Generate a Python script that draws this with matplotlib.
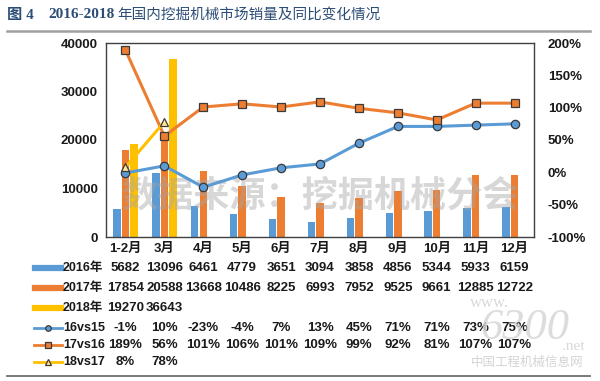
import matplotlib
matplotlib.use("Agg")
import matplotlib.pyplot as plt
from matplotlib.lines import Line2D
import matplotlib.transforms as mtransforms
import numpy as np

plt.rcParams['font.family'] = ['Liberation Sans', 'Noto Sans CJK SC']

# data
months = ["1-2月", "3月", "4月", "5月", "6月", "7月", "8月", "9月", "10月", "11月", "12月"]
sales_2016 = [5682, 13096, 6461, 4779, 3651, 3094, 3858, 4856, 5344, 5933, 6159]
sales_2017 = [17854, 20588, 13668, 10486, 8225, 6993, 7952, 9525, 9661, 12885, 12722]
sales_2018 = [19270, 36643]
yoy_16vs15 = [-1, 10, -23, -4, 7, 13, 45, 71, 71, 73, 75]
yoy_17vs16 = [189, 56, 101, 106, 101, 109, 99, 92, 81, 107, 107]
yoy_18vs17 = [8, 78]

C_BLUE = "#5b9bd5"
C_ORANGE = "#ed7d31"
C_YELLOW = "#ffc000"
EDGE = "#3a3a3a"

fig = plt.figure(figsize=(6.0, 3.81), dpi=100)
W, H = 600, 381

def fx(px):
    return px / W

def fy(py):
    return 1 - py / H

ax = fig.add_axes([fx(106), fy(237), fx(534) - fx(106), fy(43) - fy(237)])
x = np.arange(len(months))
bw = 0.19
step = 0.22

ax.bar(x - step, sales_2016, bw, color=C_BLUE, zorder=2)
ax.bar(x, sales_2017, bw, color=C_ORANGE, zorder=2)
ax.bar(x[:len(sales_2018)] + step, sales_2018, bw, color=C_YELLOW, zorder=2)

ax.set_xlim(-0.5, len(months) - 0.5)
ax.set_ylim(0, 40000)
ax.set_yticks([0, 10000, 20000, 30000, 40000])
ax.set_xticks(x)
ax.set_xticklabels(months)
ax.tick_params(axis='both', length=0, labelsize=9.5, colors="#1a1a1a")
ax.tick_params(axis='x', pad=4)
ax.tick_params(axis='y', pad=6)
for lab in ax.get_yticklabels() + ax.get_xticklabels():
    lab.set_fontweight('bold')
for s in ax.spines.values():
    s.set_color("#404040")
    s.set_linewidth(1.0)

# watermark inside the plot
ax.text(0.5, 0.21, "数据来源：挖掘机械分会", transform=ax.transAxes, ha='center', va='center',
        fontsize=26, fontweight='bold', color="#a8a8a8", alpha=0.45, zorder=5,
        family=['Noto Sans CJK SC'])

ax2 = ax.twinx()
ax2.set_ylim(-100, 200)
ax2.set_yticks([-100, -50, 0, 50, 100, 150, 200])
ax2.set_yticklabels(["-100%", "-50%", "0%", "50%", "100%", "150%", "200%"])
ax2.tick_params(axis='y', length=0, labelsize=9.5, pad=10, colors="#1a1a1a")
for lab in ax2.get_yticklabels():
    lab.set_fontweight('bold')
for s in ax2.spines.values():
    s.set_visible(False)

ax2.plot(x, yoy_16vs15, color=C_BLUE, lw=2.2, marker='o', ms=6,
         mfc=C_BLUE, mec=EDGE, mew=0.9, zorder=4)
ax2.plot(x, yoy_17vs16, color=C_ORANGE, lw=2.2, marker='s', ms=6,
         mfc=C_ORANGE, mec=EDGE, mew=0.9, zorder=4)
ax2.plot(x[:len(yoy_18vs17)], yoy_18vs17, color=C_YELLOW, lw=2.2, marker='^', ms=6,
         mfc="#ffe699", mec=EDGE, mew=0.9, zorder=4)

# data table below the chart
rows = [
    ("2016年", "bar", C_BLUE, None, 268, [str(v) for v in sales_2016]),
    ("2017年", "bar", C_ORANGE, None, 288, [str(v) for v in sales_2017]),
    ("2018年", "bar", C_YELLOW, None, 308, [str(v) for v in sales_2018]),
    ("16vs15", "line", C_BLUE, 'o', 328, ["%d%%" % v for v in yoy_16vs15]),
    ("17vs16", "line", C_ORANGE, 's', 345, ["%d%%" % v for v in yoy_17vs16]),
    ("18vs17", "line", C_YELLOW, '^', 362, ["%d%%" % v for v in yoy_18vs17]),
]
trans = mtransforms.blended_transform_factory(ax.transData, fig.transFigure)
for name, kind, col, mk, ypx, texts in rows:
    if kind == "bar":
        fig.add_artist(Line2D([fx(35), fx(61)], [fy(ypx), fy(ypx)], color=col, lw=4.5,
                              transform=fig.transFigure))
    else:
        fig.add_artist(Line2D([fx(34), fx(62)], [fy(ypx), fy(ypx)], color=col, lw=2.0,
                              transform=fig.transFigure))
        fig.add_artist(Line2D([fx(48)], [fy(ypx)], color=col, marker=mk, ms=4,
                              mfc=col if mk != '^' else "#ffe699", mec=EDGE, mew=0.9,
                              transform=fig.transFigure))
    fig.text(fx(63), fy(ypx), name, ha='left', va='center', fontsize=9,
             fontweight='bold', color="#1a1a1a")
    for i, t in enumerate(texts):
        ax.text(x[i], fy(ypx), t, transform=trans, ha='center', va='center',
                fontsize=9.5, fontweight='bold', color="#1a1a1a", clip_on=False)

# title and rules
fig.text(fx(7), fy(15), "图 4", ha='left', va='center', fontsize=11, fontweight='bold',
         color="#2c4d75", family=['Liberation Serif', 'Noto Sans CJK SC'])
fig.text(fx(48), fy(15), "2016-2018", ha='left', va='center', fontsize=11, fontweight='bold',
         color="#2c4d75", family=['Liberation Serif'])
fig.text(fx(117), fy(15), "年国内挖掘机械市场销量及同比变化情况", ha='left', va='center',
         fontsize=10.5, color="#2c4d75", family=['Noto Sans CJK SC'])
fig.add_artist(Line2D([fx(7), fx(590)], [fy(31), fy(31)], color="#a0a0a0", lw=1.8,
                      transform=fig.transFigure))
fig.add_artist(Line2D([fx(7), fx(590)], [fy(376), fy(376)], color="#707070", lw=1.3,
                      transform=fig.transFigure))

# site watermark bottom right
fig.text(fx(470), fy(303), "www.", fontsize=12, color="#d8d8d8", ha='left', va='center',
         family=['Liberation Serif'], zorder=6)
fig.text(fx(525), fy(328), "6300", fontsize=32, color="#d4d4d4", style='italic',
         ha='center', va='center', family=['Liberation Serif'], alpha=0.8, zorder=6)
fig.text(fx(573), fy(346), ".net", fontsize=11, color="#d8d8d8", ha='center', va='center',
         family=['Liberation Serif'], zorder=6)
fig.text(fx(527), fy(362), "中国工程机械信息网", fontsize=9, color="#d4d4d4", ha='center',
         va='center', family=['Noto Sans CJK SC'], zorder=6)

fig.savefig("out.png", dpi=100)
